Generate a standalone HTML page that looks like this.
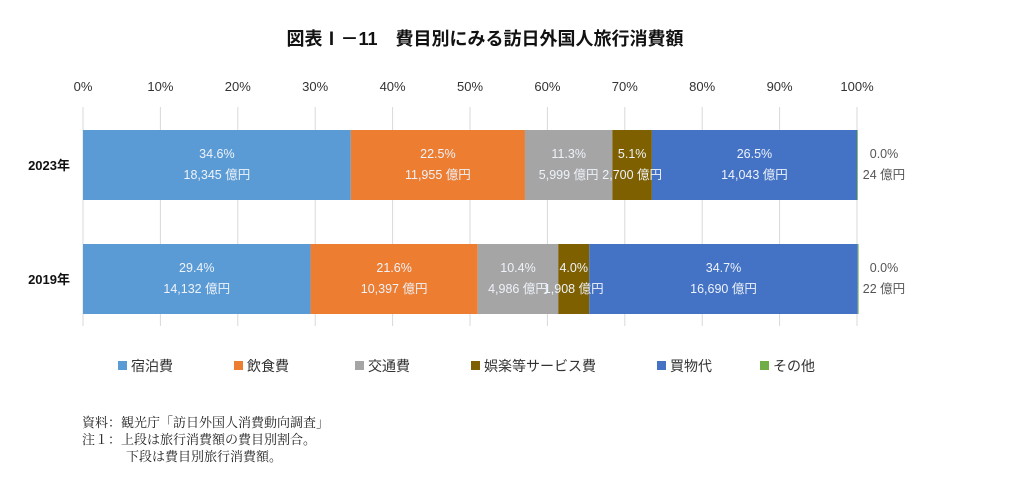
<!DOCTYPE html>
<html><head><meta charset="utf-8">
<style>
body{margin:0;background:#fff;width:1025px;height:477px;overflow:hidden;font-family:"Liberation Sans","Noto Sans CJK JP",sans-serif;}
svg text{font-family:"Liberation Sans","Noto Sans CJK JP",sans-serif;}
.note{position:absolute;left:82px;font-family:"Liberation Serif","Noto Serif CJK SC",serif;font-size:13px;color:#222;line-height:17px;}
</style></head><body>
<svg id="chart" width="1025" height="477" style="position:absolute;left:0;top:0">
<text x="485" y="45" text-anchor="middle" font-size="18" font-weight="bold" fill="#111">図表Ⅰ－11　費目別にみる訪日外国人旅行消費額</text>
<g id="grid"></g><g id="bars"></g><g id="labels"></g><g id="legend"></g>
</svg>
<div class="note" style="top:414px">資料：観光庁「訪日外国人消費動向調査」</div>
<div class="note" style="top:431px">注１：上段は旅行消費額の費目別割合。</div>
<div class="note" style="top:448px;left:126px">下段は費目別旅行消費額。</div>
<script>
const categories=["2023年","2019年"];
const seriesNames=["宿泊費","飲食費","交通費","娯楽等サービス費","買物代","その他"];
const pct2023=[34.6,22.5,11.3,5.1,26.5,0.0];
const pct2019=[29.4,21.6,10.4,4.0,34.7,0.0];
const amt2023=["18,345","11,955","5,999","2,700","14,043","24"];
const amt2019=["14,132","10,397","4,986","1,908","16,690","22"];
const ticks=[0,10,20,30,40,50,60,70,80,90,100];
const colors=["#5b9bd5","#ed7d31","#a5a5a5","#7f6000","#4472c4","#70ad47"];
const NS="http://www.w3.org/2000/svg";
const X0=83,X1=857;
const x=v=>X0+(X1-X0)*v/100;
const rowY=[130,244],BH=70;
function mk(tag,attrs,parent,txt){const e=document.createElementNS(NS,tag);for(const k in attrs)e.setAttribute(k,attrs[k]);if(txt!==undefined)e.textContent=txt;parent.appendChild(e);return e;}
const grid=document.getElementById('grid');
ticks.forEach(t=>{
  const l=mk('line',{x1:x(t),x2:x(t),y1:107,y2:326,stroke:'#d9d9d9','stroke-width':1},grid);
  
  
  const tx=mk('text',{x:x(t),y:91,'text-anchor':'middle','font-size':13,fill:'#333'},grid,t+'%');
  
  
});
const bars=document.getElementById('bars');
const labels=document.getElementById('labels');
const pcts=[pct2023,pct2019],amts=[amt2023,amt2019];
categories.forEach((c,r)=>{
  const y=rowY[r];
  const cl=mk('text',{x:70,y:y+BH/2+5,'text-anchor':'end','font-size':13,'font-weight':'bold',fill:'#111'},labels,c);
  
  
  let cum=0;
  pcts[r].forEach((p,i)=>{
    const a=x(cum),b=x(cum+p);
    const rc=mk('rect',{x:a,y:y,width:Math.max(b-a,0.8),height:BH,fill:colors[i]},bars);
    
    
    let cx=(a+b)/2,fill='#eef3fa';
    if(i===5){cx=884;fill='#555';}
    const t1=mk('text',{x:cx,y:y+28,'text-anchor':'middle','font-size':12.5,fill:fill},labels,p.toFixed(1)+'%');
    
    
    const t2=mk('text',{x:cx,y:y+49,'text-anchor':'middle','font-size':12.5,fill:fill},labels,amts[r][i]+' 億円');
    
    
    cum+=p;
  });
});
const lg=document.getElementById('legend');
const lx=[118,234,355,471,657,760];
seriesNames.forEach((n,i)=>{
  const r=mk('rect',{x:lx[i],y:361,width:9,height:9,fill:colors[i]},lg);
  
  
  const t=mk('text',{x:lx[i]+13,y:371,'font-size':14,fill:'#333'},lg,n);
  
  
});
</script>
</body></html>
